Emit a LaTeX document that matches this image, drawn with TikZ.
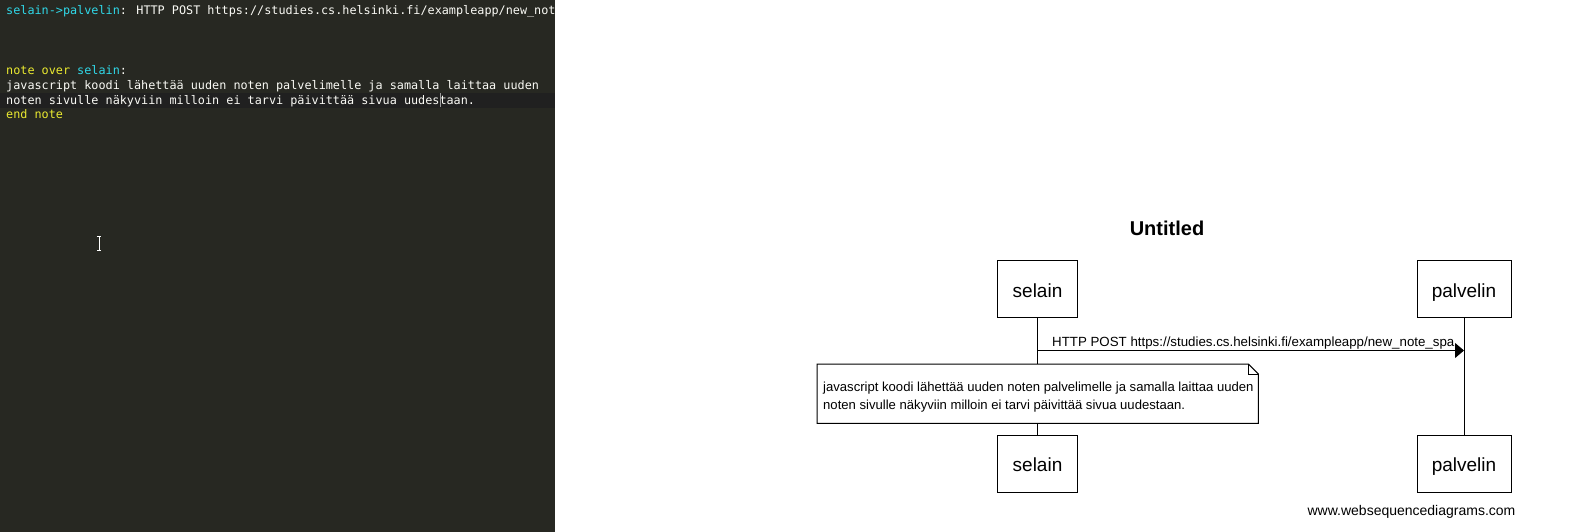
\documentclass[tikz,border=0pt]{standalone}
\usepackage{fontspec}
\setmainfont{Liberation Sans}
\newfontfamily\monof{DejaVu Sans Mono}
\usetikzlibrary{arrows.meta}
\definecolor{edbg}{HTML}{272822}
\definecolor{edact}{HTML}{202020}
\definecolor{edcyan}{HTML}{30D8E8}
\definecolor{edyel}{HTML}{EAEA30}
\definecolor{edtxt}{HTML}{FAFAF5}
\definecolor{edcaret}{HTML}{9A9A9A}
\begin{document}
\begin{tikzpicture}[x=1pt,y=-1pt,
  code/.style={anchor=base west, inner sep=0pt, font=\monof\fontsize{11.8}{14}\selectfont, text=edtxt},
  actor/.style={draw, line width=1pt, inner sep=0pt, text height=16pt, text depth=0pt, minimum height=57pt, font=\fontsize{19}{22}\selectfont},
  lbl/.style={anchor=base west, inner sep=0pt, font=\fontsize{13.1}{15}\selectfont},
  life/.style={line width=1pt},
  msg/.style={line width=1pt, -{Triangle[length=9pt,width=15pt]}},
  notebox/.style={line width=1pt, fill=white},
]
\useasboundingbox (0,0) rectangle (1596,532);
\fill[white] (0,0) rectangle (1596,532);
% editor panel
\fill[edbg] (0,0) rectangle (555,532);
\fill[edact] (0,93) rectangle (555,108);
\node[code] (l1) at (6,15) {\textcolor{edcyan}{selain->palvelin}: HTTP POST https://studies.cs.helsinki.fi/exampleapp/new\_not};
\node[code] (l5) at (6,74.4) {\textcolor{edyel}{note over} \textcolor{edcyan}{selain}:};
\node[code] (l6) at (6,89.3) {javascript koodi lähettää uuden noten palvelimelle ja samalla laittaa uuden};
\node[code] (l7) at (6,104.1) {noten sivulle näkyviin milloin ei tarvi päivittää sivua uudestaan.};
\node[code] (l8) at (6,119) {\textcolor{edyel}{end note}};
\draw[edcaret, line width=1pt] (440,93.5) -- (440,107.5);
\draw[white, line width=1pt] (96.8,236.5) -- (101.2,236.5) (99,236.5) -- (99,250.8) (96.8,250.8) -- (101.2,250.8);
% diagram
\node[anchor=base, inner sep=0pt, font=\bfseries\fontsize{20}{24}\selectfont] (title) at (1167,235) {Untitled};
\node[actor, minimum width=80pt] (s1) at (1037.5,289) {selain};
\node[actor, minimum width=94pt] (p1) at (1464,289) {palvelin};
\node[actor, minimum width=80pt] (s2) at (1037.5,463.5) {selain};
\node[actor, minimum width=94pt] (p2) at (1464,463.5) {palvelin};
\draw[life] (s1.south) -- (s2.north);
\draw[life] (p1.south) -- (p2.north);
\path (s1.south) ++(0,32.5) coordinate (m1);
\path (p1.south) ++(0,32.5) coordinate (m2);
\draw[msg] (m1) -- (m2);
\node[lbl, font=\fontsize{13.3}{15}\selectfont] (msgl) at (1052,346) {HTTP POST https://studies.cs.helsinki.fi/exampleapp/new\_note\_spa};
\node[inner sep=0pt, minimum width=441pt, minimum height=59pt, anchor=north west] (note) at (817,364) {};
\draw[notebox] (note.north west) -- ([xshift=-10pt]note.north east) -- ([yshift=-10pt]note.north east) -- (note.south east) -- (note.south west) -- cycle;
\draw[line width=1pt] ([xshift=-10pt]note.north east) -- ([xshift=-10pt,yshift=-10pt]note.north east) -- ([yshift=-10pt]note.north east);
\node[lbl] (n1) at (823,391) {javascript koodi lähettää uuden noten palvelimelle ja samalla laittaa uuden};
\node[lbl] (n2) at (823,409) {noten sivulle näkyviin milloin ei tarvi päivittää sivua uudestaan.};
\node[anchor=base, inner sep=0pt, font=\fontsize{14}{16}\selectfont] (foot) at (1411.5,515) {www.websequencediagrams.com};
\end{tikzpicture}
\end{document}
